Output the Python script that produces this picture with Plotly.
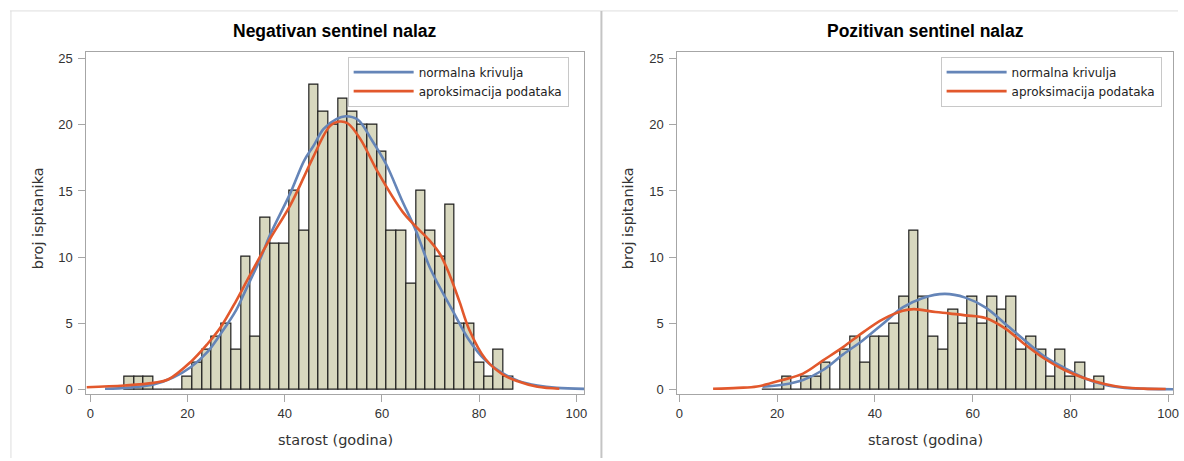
import plotly.graph_objects as go

# ---------------- data ----------------
bin_centers_neg = [8, 10, 12, 14, 16, 18, 20, 22, 24, 26, 28, 30, 32, 34, 36, 38, 40, 42, 44, 46,
                   48, 50, 52, 54, 56, 58, 60, 62, 64, 66, 68, 70, 72, 74, 76, 78, 80, 82, 84, 86]
counts_neg = [1, 1, 1, 0, 0, 0, 1, 2, 3, 4, 5, 3, 10, 4, 13, 11, 11, 15, 12, 23,
              21, 20, 22, 21, 20, 20, 18, 12, 12, 8, 15, 12, 10, 14, 5, 5, 2, 1, 3, 1]

bin_centers_pos = [18, 20, 22, 24, 26, 28, 30, 32, 34, 36, 38, 40, 42, 44, 46, 48, 50, 52,
                   54, 56, 58, 60, 62, 64, 66, 68, 70, 72, 74, 76, 78, 80, 82, 84, 86]
counts_pos = [0, 0, 1, 0, 1, 1, 2, 0, 3, 4, 2, 4, 4, 5, 7, 12, 7, 4,
              3, 6, 5, 7, 5, 7, 6, 7, 3, 4, 3, 1, 3, 1, 2, 0, 1]

# curves (x = age, y = count scale)
normal_neg_x = [3, 8, 13, 17, 20.7, 24, 26.8, 30, 32.2, 35, 37, 41.1, 44, 45.9, 48, 50.7, 52.5,
                55, 58, 60.9, 64, 67, 70, 74.5, 78, 81.3, 85, 88.1, 92, 96, 101.6]
normal_neg_y = [0.05, 0.14, 0.38, 0.9, 1.7, 2.8, 4.2, 6.0, 7.7, 9.9, 11.7, 14.8, 17.3, 18.4, 19.7, 20.45, 20.65,
                20.4, 18.8, 17.0, 14.4, 12.0, 9.1, 6.0, 3.7, 2.2, 1.2, 0.65, 0.3, 0.12, 0.04]

kernel_neg_x = [-0.8, 7, 13, 16, 20.7, 24, 26.8, 30, 32.2, 35, 37, 41.1, 44, 45.9, 49.3, 51.3, 53,
                55.6, 59.2, 64.3, 67, 69.7, 72, 74, 76, 78, 81.3, 85, 88.1, 92, 96.5]
kernel_neg_y = [0.17, 0.3, 0.5, 0.75, 2.1, 3.4, 4.7, 6.7, 8.2, 10.1, 11.4, 13.9, 16.1, 17.6, 19.9, 20.25, 20.1,
                18.9, 16.4, 13.4, 12.3, 11.3, 10.2, 8.6, 6.6, 4.5, 2.3, 1.1, 0.6, 0.2, 0.05]

normal_pos_x = [17, 21.1, 25.3, 29.4, 33.5, 37.5, 41.6, 45.7, 49.7, 54.3, 58.5, 62.6, 66.7,
                70.7, 74.8, 78.9, 82.9, 87, 91.1, 96, 101]
normal_pos_y = [0.2, 0.35, 0.72, 1.47, 2.65, 3.7, 4.95, 6.2, 6.9, 7.22, 6.94, 6.2, 4.95,
                3.7, 2.46, 1.6, 0.85, 0.35, 0.12, 0.04, 0.01]

kernel_pos_x = [6.9, 12, 15.9, 21.1, 25.3, 29.4, 33.5, 37.5, 41.6, 45.7, 48, 52.4, 55.1, 58.5,
                62.6, 66.7, 70.7, 74.8, 78.9, 82.9, 87, 91.1, 95, 99.5]
kernel_pos_y = [0.05, 0.12, 0.22, 0.72, 1.2, 2.2, 3.2, 4.3, 5.3, 5.95, 6.07, 5.85, 5.75, 5.6,
                5.4, 4.6, 3.4, 2.3, 1.45, 0.85, 0.42, 0.15, 0.06, 0.03]

panel_titles = ["Negativan sentinel nalaz", "Pozitivan sentinel nalaz"]
legend_names = ["normalna krivulja", "aproksimacija podataka"]
x_title = "starost (godina)"
y_title = "broj ispitanika"
x_ticks = [0, 20, 40, 60, 80, 100]
y_ticks = [0, 5, 10, 15, 20, 25]

# ---------------- styling ----------------
W, H = 1184, 461
BAR_FILL = "#d8d8bf"
BAR_LINE = "#1e1e1e"
BLUE = "#6585b8"
RED = "#e2582c"
FONT = "Liberation Sans, Arial, sans-serif"
WIDE = "DejaVu Sans, Verdana, sans-serif"

def fx(p):
    return p / W

def fy(p):
    return 1 - p / H

fig = go.Figure()

panels = [
    dict(xa="x", ya="y", centers=bin_centers_neg, counts=counts_neg,
         nx=normal_neg_x, ny=normal_neg_y, kx=kernel_neg_x, ky=kernel_neg_y, legend="legend"),
    dict(xa="x2", ya="y2", centers=bin_centers_pos, counts=counts_pos,
         nx=normal_pos_x, ny=normal_pos_y, kx=kernel_pos_x, ky=kernel_pos_y, legend="legend2"),
]

for p in panels:
    fig.add_trace(go.Bar(x=p["centers"], y=p["counts"], width=2, xaxis=p["xa"], yaxis=p["ya"],
                         marker=dict(color=BAR_FILL, line=dict(color=BAR_LINE, width=1.2)),
                         showlegend=False, hoverinfo="x+y"))
    fig.add_trace(go.Scatter(x=p["nx"], y=p["ny"], mode="lines", name=legend_names[0],
                             xaxis=p["xa"], yaxis=p["ya"], legend=p["legend"],
                             line=dict(color=BLUE, width=2.6, shape="spline", smoothing=1.0)))
    fig.add_trace(go.Scatter(x=p["kx"], y=p["ky"], mode="lines", name=legend_names[1],
                             xaxis=p["xa"], yaxis=p["ya"], legend=p["legend"],
                             line=dict(color=RED, width=2.6, shape="spline", smoothing=1.0)))

axis_common = dict(showline=True, linecolor="#a6a6a6", linewidth=1, mirror=True,
                   ticks="outside", ticklen=7, tickcolor="#a6a6a6", showgrid=False,
                   zeroline=False, tickfont=dict(size=13, color="#333333", family=FONT))

ydom = [fy(397), fy(52)]
legend_common = dict(xanchor="left", yanchor="top", bgcolor="white",
                     bordercolor="#c8c8c8", borderwidth=1,
                     font=dict(size=12, color="#222222", family=WIDE),
                     tracegroupgap=0, itemwidth=60)
fig.update_layout(
    width=W, height=H,
    margin=dict(l=0, r=0, t=0, b=0),
    paper_bgcolor="white", plot_bgcolor="white",
    font=dict(family=FONT, color="#333333"),
    bargap=0,
    xaxis=dict(domain=[fx(85), fx(586)], range=[-0.82, 101.6], tickvals=x_ticks, anchor="y", **axis_common),
    yaxis=dict(domain=ydom, range=[-0.375, 25.53], tickvals=y_ticks, anchor="x",
               ticklabelstandoff=3, **axis_common),
    xaxis2=dict(domain=[fx(680), fx(1179)], range=[-0.4, 101.0], tickvals=x_ticks, anchor="y2", **axis_common),
    yaxis2=dict(domain=ydom, range=[-0.375, 25.53], tickvals=y_ticks, anchor="x2",
                ticklabelstandoff=3, **axis_common),
    legend=dict(x=fx(348), y=fy(57), **legend_common),
    legend2=dict(x=fx(945), y=fy(57), **legend_common),
)

# panel frames
fig.add_shape(type="line", xref="paper", yref="paper", x0=fx(8), x1=1, y0=fy(11), y1=fy(11),
              line=dict(color="#dedede", width=1))
fig.add_shape(type="line", xref="paper", yref="paper", x0=fx(9), x1=fx(9), y0=fy(11), y1=0,
              line=dict(color="#dedede", width=1))
fig.add_shape(type="line", xref="paper", yref="paper", x0=fx(603.5), x1=fx(603.5), y0=fy(11), y1=0,
              line=dict(color="#c4c4c4", width=2))

# titles and axis titles
centers = [(85 + 586) / 2, (680 + 1179) / 2]
for i, c in enumerate(centers):
    fig.add_annotation(text="<b>" + panel_titles[i] + "</b>", xref="paper", yref="paper",
                       x=fx(c), y=fy(31), xanchor="center", yanchor="middle", showarrow=False,
                       font=dict(size=17.5, color="#000000", family=FONT))
    fig.add_annotation(text=x_title, xref="paper", yref="paper",
                       x=fx(c), y=fy(443), xanchor="center", yanchor="middle", showarrow=False,
                       font=dict(size=14.5, color="#333333", family=WIDE))
for xc in [36, 630]:
    fig.add_annotation(text=y_title, xref="paper", yref="paper", textangle=-90,
                       x=fx(xc), y=fy(220), xanchor="center", yanchor="middle", showarrow=False,
                       font=dict(size=14.5, color="#333333", family=WIDE))

fig.write_html("out.html", config={"displayModeBar": False},
               post_script="document.body.style.margin='0';document.body.style.overflow='hidden';")
